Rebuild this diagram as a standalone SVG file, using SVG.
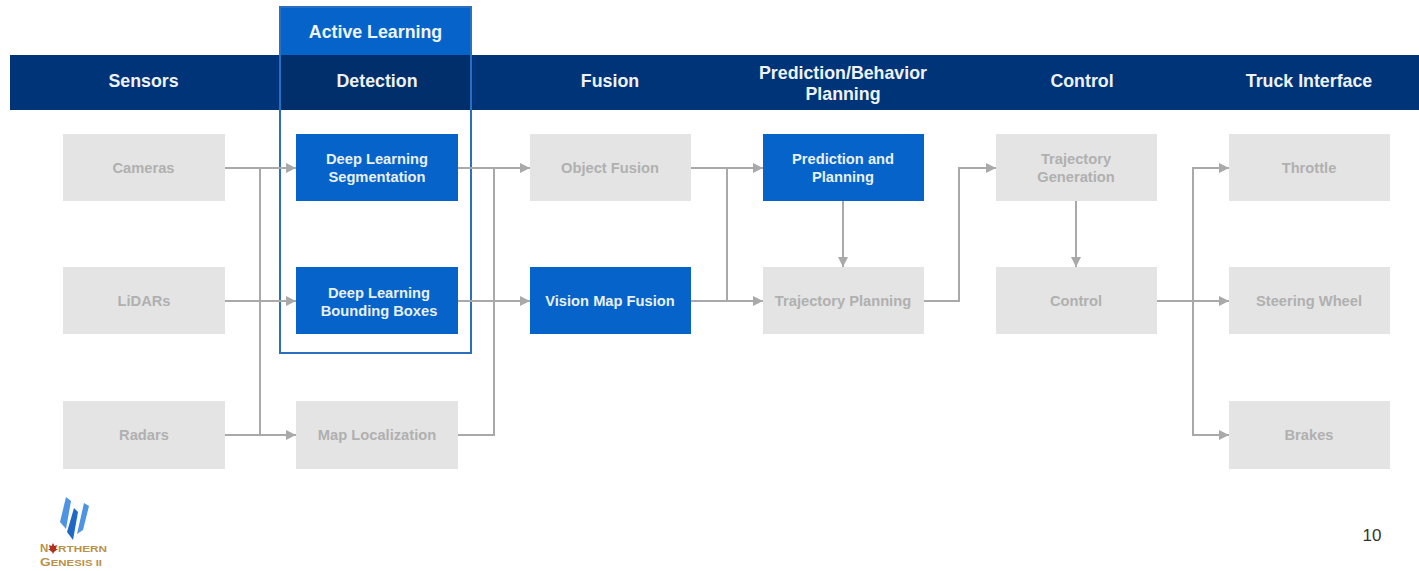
<svg xmlns="http://www.w3.org/2000/svg" width="1419" height="571" viewBox="0 0 1419 571">
<style>
text{font-family:"Liberation Sans",Arial,sans-serif;font-weight:700;text-anchor:middle}
.h{fill:#eef2f6;font-size:17.8px}
.g rect{fill:#e4e4e4}
.g text{fill:#b0b0b0;font-size:14.7px}
.b rect{fill:#0563c9}
.b text{fill:#e8f0f8;font-size:14.7px}
.c{fill:none;stroke:#a9a9a9;stroke-width:2;marker-end:url(#a)}
.n{fill:none;stroke:#a9a9a9;stroke-width:2}
.l{fill:#b8924a;font-size:9.500px;text-anchor:start}
.l .k{font-size:11.500px}
</style>
<defs><marker id="a" markerUnits="userSpaceOnUse" markerWidth="11" markerHeight="11" refX="10" refY="5" orient="auto"><path d="M0 0L10 5L0 10Z" fill="#a9a9a9"/></marker></defs>
<rect width="1419" height="571" fill="#fff"/>
<g id="header">
<rect x="10" y="55" width="1409" height="55" fill="#003478"/>
<rect x="280" y="55" width="191" height="55" fill="#002f6c"/>
<text class="h" x="143.500" y="87">Sensors</text>
<text class="h" x="377" y="87">Detection</text>
<text class="h" x="610" y="87">Fusion</text>
<text class="h" x="843" y="79">Prediction/Behavior</text>
<text class="h" x="843" y="100">Planning</text>
<text class="h" x="1082" y="87">Control</text>
<text class="h" x="1309" y="87">Truck Interface</text>
</g>
<g id="active-learning">
<rect x="279" y="6" width="193" height="49" fill="#0563c9"/>
<rect x="280" y="7" width="191" height="346" fill="none" stroke="#2a70c0" stroke-width="2"/>
<text x="375.500" y="38" style="fill:#eef4fa;font-size:17.800px">Active Learning</text>
</g>
<g id="connectors">
<path class="c" d="M225 168H296"/>
<path class="c" d="M225 301H296"/>
<path class="c" d="M225 435H296"/>
<path class="n" d="M260 168V435"/>
<path class="c" d="M458 168H530"/>
<path class="c" d="M458 301H530"/>
<path class="n" d="M458 435H494V168"/>
<path class="c" d="M691 168H763"/>
<path class="c" d="M691 301H763"/>
<path class="n" d="M727 168V301"/>
<path class="c" d="M843 201V267"/>
<path class="c" d="M924 301H959V168H996"/>
<path class="c" d="M1076 201V267"/>
<path class="c" d="M1157 301H1229"/>
<path class="c" d="M1193 301V168H1229"/>
<path class="c" d="M1193 301V435H1229"/>
</g>
<g id="cameras" class="g"><rect x="63" y="134" width="162" height="67"/><text x="143.500" y="173">Cameras</text></g>
<g id="lidars" class="g"><rect x="63" y="267" width="162" height="67"/><text x="144" y="306">LiDARs</text></g>
<g id="radars" class="g"><rect x="63" y="401" width="162" height="68"/><text x="144" y="440">Radars</text></g>
<g id="segmentation" class="b"><rect x="296" y="134" width="162" height="67"/><text x="377" y="164">Deep Learning</text><text x="377" y="182">Segmentation</text></g>
<g id="bounding-boxes" class="b"><rect x="296" y="267" width="162" height="67"/><text x="379" y="298">Deep Learning</text><text x="379" y="316">Bounding Boxes</text></g>
<g id="map-localization" class="g"><rect x="296" y="401" width="162" height="68"/><text x="377" y="440">Map Localization</text></g>
<g id="object-fusion" class="g"><rect x="530" y="134" width="161" height="67"/><text x="610" y="173">Object Fusion</text></g>
<g id="vision-map-fusion" class="b"><rect x="530" y="267" width="161" height="67"/><text x="610" y="306">Vision Map Fusion</text></g>
<g id="prediction-planning" class="b"><rect x="763" y="134" width="161" height="67"/><text x="843" y="164">Prediction and</text><text x="843" y="182">Planning</text></g>
<g id="trajectory-planning" class="g"><rect x="763" y="267" width="161" height="67"/><text x="843" y="306">Trajectory Planning</text></g>
<g id="trajectory-generation" class="g"><rect x="996" y="134" width="161" height="67"/><text x="1076" y="164">Trajectory</text><text x="1076" y="182">Generation</text></g>
<g id="control" class="g"><rect x="996" y="267" width="161" height="67"/><text x="1076" y="306">Control</text></g>
<g id="throttle" class="g"><rect x="1229" y="134" width="161" height="67"/><text x="1309" y="173">Throttle</text></g>
<g id="steering-wheel" class="g"><rect x="1229" y="267" width="161" height="67"/><text x="1309" y="306">Steering Wheel</text></g>
<g id="brakes" class="g"><rect x="1229" y="401" width="161" height="68"/><text x="1309" y="440">Brakes</text></g>
<g id="logo">
<path d="M66 497L71 501L66 529L60 522Z" fill="#4f94e2"/>
<path d="M84 503L89 506L83 530L77 534Z" fill="#4f94e2"/>
<path d="M74 508L78 512L73 540L67 532Z" fill="#1f69c4"/>
<text class="l" x="40" y="552"><tspan class="k">N</tspan></text>
<path d="M53 543L54.500 546L57 545L56 549L58 549L54 552L53 554L52 552L48 549L50 549L49 545L51.500 546Z" fill="#b03020"/>
<text class="l" x="58" y="552" textLength="49" lengthAdjust="spacingAndGlyphs">RTHERN</text>
<text class="l" x="40" y="566" textLength="62" lengthAdjust="spacingAndGlyphs"><tspan class="k">G</tspan>ENESIS II</text>
</g>
<text id="page-number" x="1372" y="541" style="font-weight:400;fill:#333;font-size:17px">10</text>
</svg>
